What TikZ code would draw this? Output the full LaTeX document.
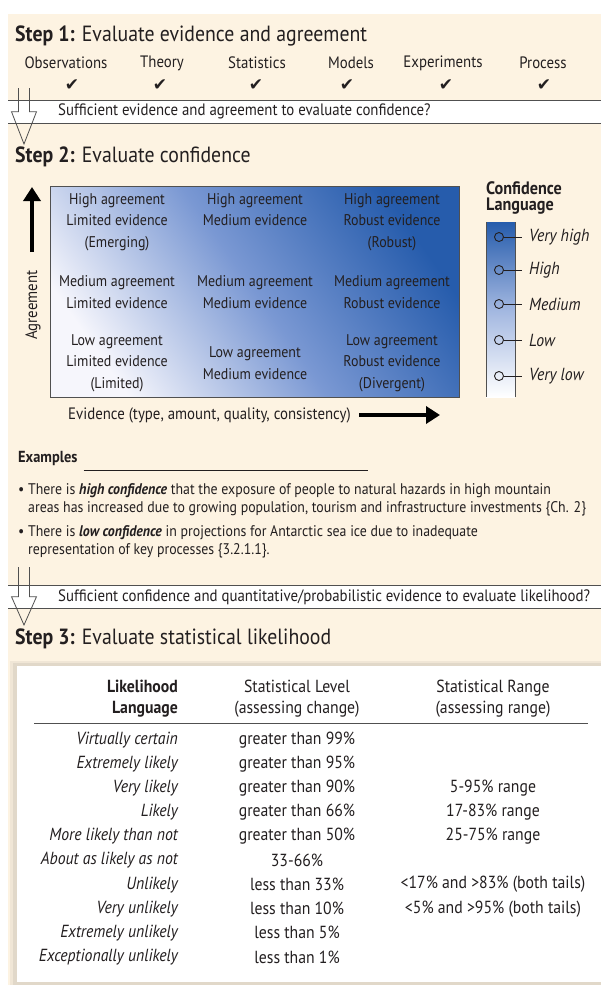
\documentclass[tikz,border=0pt]{standalone}
\usepackage{fontspec}
\setmainfont{PT Sans}[FakeStretch=0.9]
\newfontfamily\symfont{DejaVu Sans}
\usetikzlibrary{positioning,calc,arrows.meta}
\definecolor{ink}{RGB}{35,31,32}
\definecolor{cream}{RGB}{253,243,226}
\definecolor{edge}{RGB}{80,80,80}
\definecolor{blueDk}{RGB}{38,92,172}
\definecolor{blueMd}{RGB}{122,152,211}
\definecolor{blueLt}{RGB}{246,246,252}

\begin{document}
\begin{tikzpicture}[
  x=1pt, y=-1pt,
  every node/.style={inner sep=0pt, text=ink},
  title/.style={font=\fontsize{22}{24}\selectfont, anchor=west},
  item/.style={font=\fontsize{16.5}{18}\selectfont},
  chk/.style={font=\symfont\fontsize{17}{18}\selectfont},
  band/.style={fill=white, anchor=north west, minimum width=593pt, minimum height=23pt},
  bandline/.style={draw=edge, line width=0.9pt},
  question/.style={font=\fontsize{16.5}{18}\selectfont, anchor=west},
  hollow/.style={draw=edge, line width=0.8pt},
  gridbox/.style={draw=edge, line width=0.8pt, left color=blueLt, right color=blueDk, middle color=blueMd, shading angle=125, anchor=north west, minimum width=409pt, minimum height=211pt},
  cell/.style={font=\fontsize{15.5}{21.5}\selectfont, align=center},
  bigarrow/.style={-{Triangle[length=14pt,width=17pt]}, line width=4.5pt, draw=black},
  scalebar/.style={top color=blueDk, bottom color=white, middle color=blueMd!70!white, anchor=north west, minimum width=29pt, minimum height=175pt},
  dot/.style={circle, draw=ink, line width=0.9pt, minimum size=9pt},
  tick/.style={draw=ink, line width=0.9pt, shorten >=7pt},
  lvl/.style={font=\fontsize{17.5}{19}\selectfont\itshape, anchor=west},
  body/.style={font=\fontsize{15.4}{18.5}\selectfont, align=left, anchor=north west},
  tablebox/.style={fill=white, anchor=north west, minimum width=600pt, minimum height=316pt},
  hdr/.style={font=\fontsize{17.5}{21}\selectfont, align=center},
  lik/.style={font=\fontsize{17.5}{19}\selectfont\itshape, anchor=east},
  val/.style={font=\fontsize{17.5}{19}\selectfont},
]
\useasboundingbox (0,0) rectangle (601,985);
\fill[cream] (8,14) rectangle (601,985);

% ---- step 1 ----
\node[title] (T1) at (15,36) {\textbf{Step 1:} Evaluate evidence and agreement};
\foreach \x/\cx/\lab [count=\i] in {66/72/Observations, 162/160/Theory, 257/256/Statistics, 351/347/Models, 443/446/Experiments, 543/544/Process}{
  \node[item] (src\i) at (\x,63) {\lab};
  \node[chk] (ok\i) at (\cx,85) {✔};
}

% ---- question band 1 + hollow arrow ----
\node[band] (B1) at (8,100) {};
\node[question] (Q1) at (58,111.5) {Sufficient evidence and agreement to evaluate confidence?};
\draw[bandline] (B1.north west) -- (B1.north east);
\draw[bandline] (B1.south west) -- (B1.south east);
\coordinate (s1l) at (18.5,88);
\coordinate (s1r) at (29.5,88);
\coordinate (h1) at (24,144);
\draw[hollow] (s1l) -- (s1l |- B1.center) -- ++(-7,0) -- (h1) -- ($(s1r |- B1.center)+(7,0)$) -- (s1r |- B1.center) -- (s1r);

% ---- step 2 ----
\node[title] (T2) at (15,157) {\textbf{Step 2:} Evaluate confidence};
\node[gridbox] (G) at (50,186) {};
\node[cell, anchor=north] (hl) at (117,193) {High agreement\\Limited evidence\\(Emerging)};
\node[cell, anchor=north] (hm) at (255,193) {High agreement\\Medium evidence};
\node[cell, anchor=north] (hr) at (392,193) {High agreement\\Robust evidence\\(Robust)};
\node[cell] (ml) at (117,292) {Medium agreement\\Limited evidence};
\node[cell] (mm) at (255,292) {Medium agreement\\Medium evidence};
\node[cell] (mr) at (392,292) {Medium agreement\\Robust evidence};
\node[cell] (ll) at (117,363) {Low agreement\\Limited evidence\\(Limited)};
\node[cell] (lm) at (255,363) {Low agreement\\Medium evidence};
\node[cell] (lr) at (392,363) {Low agreement\\Robust evidence\\(Divergent)};

% agreement axis
\coordinate (agrTail) at (32,252);
\coordinate (agrTip) at (32,187);
\draw[bigarrow] (agrTail) -- (agrTip);
\node[item, rotate=90] (agrLab) at (33,305) {Agreement};

% evidence axis
\node[item, anchor=west] (ev) at (68,415) {Evidence (type, amount, quality, consistency)};
\coordinate (evTip) at (440,415);
\draw[bigarrow, shorten <=8pt] (ev.east) -- (evTip);

% ---- confidence scale ----
\node[font=\fontsize{18}{16.5}\selectfont\bfseries, align=left, anchor=north west] (CL) at (486,181) {Confidence\\Language};
\node[scalebar] (SB) at (486,222) {};
\draw[hollow] (SB.north west) -- (SB.south west);
\draw[hollow] (SB.north east) -- (SB.south east);
\foreach \y/\lab [count=\i] in {237/Very high, 270/High, 304/Medium, 340/Low, 376/Very low}{
  \node[dot] (d\i) at (499,\y) {};
  \node[lvl] (lv\i) at (529,\y) {\lab};
  \draw[tick] (d\i) -- (lv\i.west);
}

% ---- examples ----
\node[font=\fontsize{16}{18}\selectfont\bfseries, anchor=base west] (ex) at (18,462) {Examples};
\draw[line width=0.6pt, draw=ink] ($(ex.base east)+(6,8)$) -- ($(ex.base east -| 368,0)+(0,8)$);
\node[body] (ex1) at (18,483) {\textbullet\ There is \textbf{\textit{high confidence}} that the exposure of people to natural hazards in high mountain\\
  \phantom{\textbullet\ }areas has increased due to growing population, tourism and infrastructure investments \{Ch. 2\}};
\node[body] (ex2) at (18,525) {\textbullet\ There is \textbf{\textit{low confidence}} in projections for Antarctic sea ice due to inadequate\\
  \phantom{\textbullet\ }representation of key processes \{3.2.1.1\}.};

% ---- question band 2 + hollow arrow ----
\node[band] (B2) at (8,585) {};
\node[question] (Q2) at (58,597) {Sufficient confidence and quantitative/probabilistic evidence to evaluate likelihood?};
\draw[bandline] (B2.north west) -- (B2.north east);
\draw[bandline] (B2.south west) -- (B2.south east);
\coordinate (s2l) at (18.5,567);
\coordinate (s2r) at (29.5,567);
\coordinate (h2) at (24,625);
\draw[hollow] (s2l) -- (s2l |- B2.center) -- ++(-7,0) -- (h2) -- ($(s2r |- B2.center)+(7,0)$) -- (s2r |- B2.center) -- (s2r);

% ---- step 3 ----
\node[title] (T3) at (15,639) {\textbf{Step 3:} Evaluate statistical likelihood};
\fill[black, opacity=0.05] (10,661) rectangle (601,985);
\fill[black, opacity=0.06] (13,663) rectangle (601,985);
\node[tablebox] (TB) at (17,666) {};
\node[hdr, anchor=east, align=right, font=\fontsize{17.5}{21}\selectfont\bfseries] (hLang) at (178,698.5) {Likelihood\\Language};
\node[hdr] (hLvl) at (297,698.5) {Statistical Level\\(assessing change)};
\node[hdr] (hRng) at (493,698.5) {Statistical Range\\(assessing range)};
\draw[line width=0.9pt, draw=edge] (34,723) -- (588,723);
\foreach \lab/\lev/\rng [count=\i] in {
  Virtually certain/greater than 99\%/{},
  Extremely likely/greater than 95\%/{},
  Very likely/greater than 90\%/5-95\% range,
  Likely/greater than 66\%/17-83\% range,
  More likely than not/greater than 50\%/25-75\% range,
  About as likely as not/33-66\%/{},
  Unlikely/less than 33\%/<17\% and >83\% (both tails),
  Very unlikely/less than 10\%/<5\% and >95\% (both tails),
  Extremely unlikely/less than 5\%/{},
  Exceptionally unlikely/less than 1\%/{}}{
  \node[lik] (lk\i) at (178,{740+24.1*(\i-1)}) {\lab};
  \node[val] (lv\i) at (297,{740+24.1*(\i-1)}) {\lev};
  \node[val] (rg\i) at (493,{740+24.1*(\i-1)}) {\rng};
}
\end{tikzpicture}
\end{document}
